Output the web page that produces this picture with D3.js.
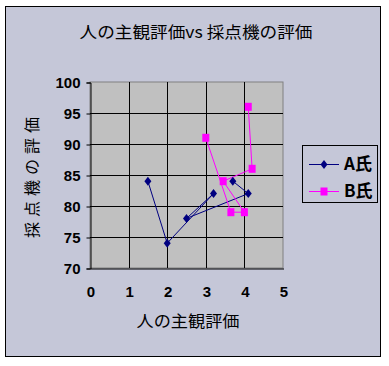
<!DOCTYPE html>
<html><head><meta charset="utf-8">
<script src="https://cdn.jsdelivr.net/npm/d3@7/dist/d3.min.js"></script>
<style>body{margin:0;background:#fff}svg{display:block}</style>
</head><body>
<script>
const title = "人の主観評価vs 採点機の評価";
const xTitle = "人の主観評価";
const yTitle = "採点機の評価";
const seriesNames = ["A氏", "B氏"];
const aX = [1.5, 2, 3.2, 2.5, 4.1, 3.7];
const aY = [84, 74, 82, 78, 82, 84];
const bX = [3, 3.65, 4, 3.45, 4.2, 4.1];
const bY = [91, 79, 79, 84, 86, 96];
const xTicks = [0, 1, 2, 3, 4, 5];
const yTicks = [70, 75, 80, 85, 90, 95, 100];

const W = 389, H = 366;
const svg = d3.select("body").append("svg").attr("width", W).attr("height", H);
const font = "'Noto Sans CJK JP', sans-serif";

svg.append("rect").attr("x", 5.5).attr("y", 6.5).attr("width", 375).attr("height", 350)
  .attr("fill", "#C5C7D8").attr("stroke", "#000").attr("stroke-width", 1);

const pl = 90, pr = 283, pt = 82, pb = 268;
const x = d3.scaleLinear().domain([0, 5]).range([pl, pr]);
const y = d3.scaleLinear().domain([70, 100]).range([pb, pt]);

svg.append("rect").attr("x", pl).attr("y", pt).attr("width", pr - pl).attr("height", pb - pt)
  .attr("fill", "#C0C0C0").attr("stroke", "#808080");

// gridlines
svg.append("g").selectAll("line").data(xTicks.slice(1, -1)).join("line")
  .attr("x1", d => Math.round(x(d)) + 0.5).attr("x2", d => Math.round(x(d)) + 0.5)
  .attr("y1", pt).attr("y2", pb).attr("stroke", "#000");
svg.append("g").selectAll("line").data(yTicks.slice(1, -1)).join("line")
  .attr("y1", d => Math.round(y(d)) + 0.5).attr("y2", d => Math.round(y(d)) + 0.5)
  .attr("x1", pl).attr("x2", pr).attr("stroke", "#000");

// axes
const yAxis = d3.axisLeft(y).tickValues(yTicks).tickSize(4).tickPadding(6).tickFormat(d3.format("d"));
const gy = svg.append("g").attr("transform", `translate(${pl + 0.5},0.5)`).call(yAxis);
gy.select(".domain").attr("stroke", "#000");
gy.selectAll("text").attr("font-family", "'Liberation Sans', Arial, sans-serif")
  .attr("font-weight", "bold").attr("font-size", 15).attr("fill", "#000");

const xAxis = d3.axisBottom(x).tickValues(xTicks).tickSize(0).tickPadding(18).tickFormat(d3.format("d"));
const gx = svg.append("g").attr("transform", `translate(0.5,${pb + 0.5})`).call(xAxis);
gx.select(".domain").attr("stroke", "#000");
gx.selectAll("text").attr("font-family", "'Liberation Sans', Arial, sans-serif")
  .attr("font-weight", "bold").attr("font-size", 15).attr("fill", "#000");

// titles
svg.append("text").attr("x", 196).attr("y", 38).attr("text-anchor", "middle")
  .attr("font-family", font).attr("font-size", 16).attr("textLength", 233)
  .attr("lengthAdjust", "spacingAndGlyphs").text(title);
svg.append("text").attr("x", 188).attr("y", 327).attr("text-anchor", "middle")
  .attr("font-family", font).attr("font-size", 16).attr("textLength", 103)
  .attr("lengthAdjust", "spacingAndGlyphs").text(xTitle);
svg.append("text").attr("transform", "translate(38,175) rotate(-90)").attr("text-anchor", "middle")
  .attr("font-family", font).attr("font-size", 16).attr("letter-spacing", 5).text(yTitle);

// series
const line = d3.line().x(d => x(d[0])).y(d => y(d[1]));
const aData = aX.map((v, i) => [v, aY[i]]);
const bData = bX.map((v, i) => [v, bY[i]]);
const colA = "#000080", colB = "#FF00FF";

svg.append("path").datum(aData).attr("d", line).attr("fill", "none").attr("stroke", colA).attr("stroke-width", 1);
svg.append("path").datum(bData).attr("d", line).attr("fill", "none").attr("stroke", colB).attr("stroke-width", 1);

const diamond = (cx, cy) => `M${cx},${cy - 4.5}L${cx + 3.5},${cy}L${cx},${cy + 4.5}L${cx - 3.5},${cy}Z`;
svg.append("g").selectAll("path").data(aData).join("path")
  .attr("d", d => diamond(x(d[0]), y(d[1]))).attr("fill", colA);
svg.append("g").selectAll("rect").data(bData).join("rect")
  .attr("x", d => x(d[0]) - 3.5).attr("y", d => y(d[1]) - 4).attr("width", 7).attr("height", 8).attr("fill", colB);

// legend
const lg = svg.append("g");
lg.append("rect").attr("x", 302.5).attr("y", 145.5).attr("width", 75).attr("height", 57)
  .attr("fill", "#C5C7D8").attr("stroke", "#000");
const ly = [164, 191];
seriesNames.forEach((name, i) => {
  const c = i === 0 ? colA : colB;
  lg.append("line").attr("x1", 309).attr("x2", 339).attr("y1", ly[i] + 0.5).attr("y2", ly[i] + 0.5).attr("stroke", c);
  if (i === 0) lg.append("path").attr("d", diamond(324, ly[i] + 0.5)).attr("fill", c);
  else lg.append("rect").attr("x", 320.5).attr("y", ly[i] - 3.5).attr("width", 7).attr("height", 8).attr("fill", c);
  lg.append("text").attr("x", 344).attr("y", ly[i] + 6).attr("font-family", font)
    .attr("font-weight", "bold").attr("font-size", 17).text(name);
});
</script>
</body></html>
